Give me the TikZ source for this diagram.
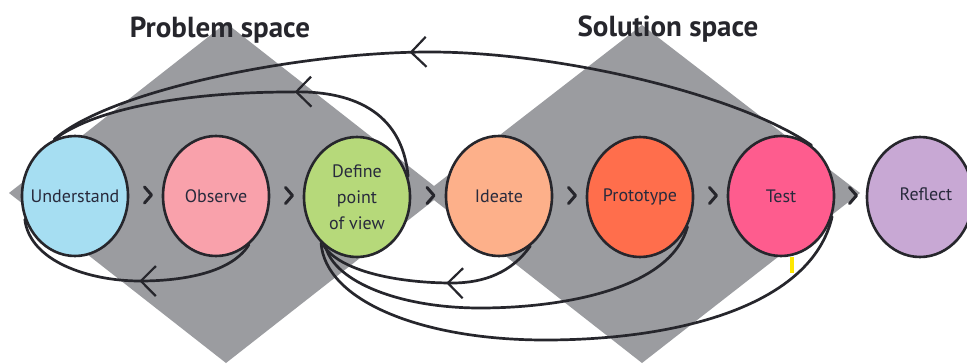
\documentclass[tikz,border=0pt]{standalone}
\usepackage{fontspec}
\setmainfont{PT Sans}
\usetikzlibrary{shapes.geometric,arrows.meta,decorations.markings,calc}
\pgfdeclarelayer{bg}
\pgfsetlayers{bg,main}
\definecolor{diamgray}{RGB}{155,156,160}
\definecolor{inkc}{RGB}{38,38,44}
\definecolor{textc}{RGB}{40,42,60}
\definecolor{cUnd}{RGB}{166,222,242}
\definecolor{cObs}{RGB}{249,161,171}
\definecolor{cDef}{RGB}{182,217,122}
\definecolor{cIde}{RGB}{253,176,138}
\definecolor{cPro}{RGB}{255,110,76}
\definecolor{cTes}{RGB}{254,92,142}
\definecolor{cRef}{RGB}{200,168,212}
\tikzset{
  diam/.style={fill=diamgray},
  bub/.style={ellipse, draw=inkc, line width=2.6pt, minimum width=106pt, minimum height=120pt,
    inner xsep=-15pt, inner ysep=-10pt, text=textc, font=\fontsize{18}{26}\selectfont, align=center},
  ptitle/.style={text=inkc, font=\fontsize{29}{33}\selectfont\bfseries},
  loop/.style={draw=inkc, line width=2.7pt, line cap=round},
  chev/.style={draw=inkc, line width=3pt, line join=round, line cap=round},
  midbarb/.style={postaction={decorate}, decoration={markings,
    mark=at position #1 with {\arrow{Straight Barb[length=15pt,width=30pt,line width=2.2pt]}}}}
}
\begin{document}
\begin{tikzpicture}[x=1pt,y=-1pt]
\clip (0,0) rectangle (967,364);
\begin{pgfonlayer}{bg}
\fill[white] (0,0) rectangle (967,364);
% diamonds
\fill[diam] (9,193) -- (226,23) -- (443,193) -- (226,363) -- cycle;
\fill[diam] (425,193) -- (642,25) -- (860,193) -- (642,363) -- cycle;
\end{pgfonlayer}
% titles
\node[ptitle] (ps) at (220,30) {Problem space};
\node[ptitle] (ss) at (668,29) {Solution space};
% circles
\node[bub, fill=cUnd] (und) at (75,196) {Understand};
\node[bub, fill=cObs] (obs) at (216,196) {Observe};
\node[bub, fill=cDef] (def) at (357,197) {Define\\point\\of view};
\node[bub, fill=cIde] (ide) at (499,196) {Ideate};
\node[bub, fill=cPro] (pro) at (640,197) {Prototype};
\node[bub, fill=cTes] (tes) at (781,196) {Test};
\node[bub, fill=cRef] (ref) at (920,197) {\hspace*{12pt}\raisebox{5pt}{Reflect}};
% connectors (under the circles)
\coordinate (t1) at (430,52);
\coordinate (t2) at (290,92);
\coordinate (b3) at (140,281);
\coordinate (b4) at (452,283);
\coordinate (b5) at (480,308);
\coordinate (b6) at (545,340);
\begin{pgfonlayer}{bg}
\path[loop, midbarb=0.53] (tes.59) .. controls (740,95) and (560,52) .. (t1)
   .. controls (300,52) and (110,90) .. (und.110);
\path[loop, midbarb=0.39] (def.22) .. controls (402,110) and (350,90) .. (t2)
   .. controls (200,92) and (100,105) .. (und.110);
\path[loop, midbarb=0.46] (obs.-56) .. controls (232,272) and (185,281) .. (b3)
   .. controls (90,281) and (30,262) .. (und.205);
\path[loop, midbarb=0.42] (ide.-58) .. controls (512,272) and (485,283) .. (b4)
   .. controls (400,283) and (340,272) .. (def.235);
\path[loop] (pro.-32) .. controls (670,290) and (560,308) .. (b5)
   .. controls (400,308) and (335,282) .. (def.238);
\path[loop] (tes.-22) .. controls (812,305) and (680,340) .. (b6)
   .. controls (420,340) and (325,300) .. (def.232);
\end{pgfonlayer}
% chevrons
\foreach \a/\b in {und/obs,obs/def,def/ide,ide/pro,pro/tes,tes/ref}{
  \draw[chev] ($(\a.east)!0.5!(\b.west)+(0,-1)$) ++(-1,-8) -- ++(7,8) -- ++(-7,8);
}
% small yellow mark
\fill[yellow!90!orange] (790,257) rectangle (794,273);
\end{tikzpicture}
\end{document}
